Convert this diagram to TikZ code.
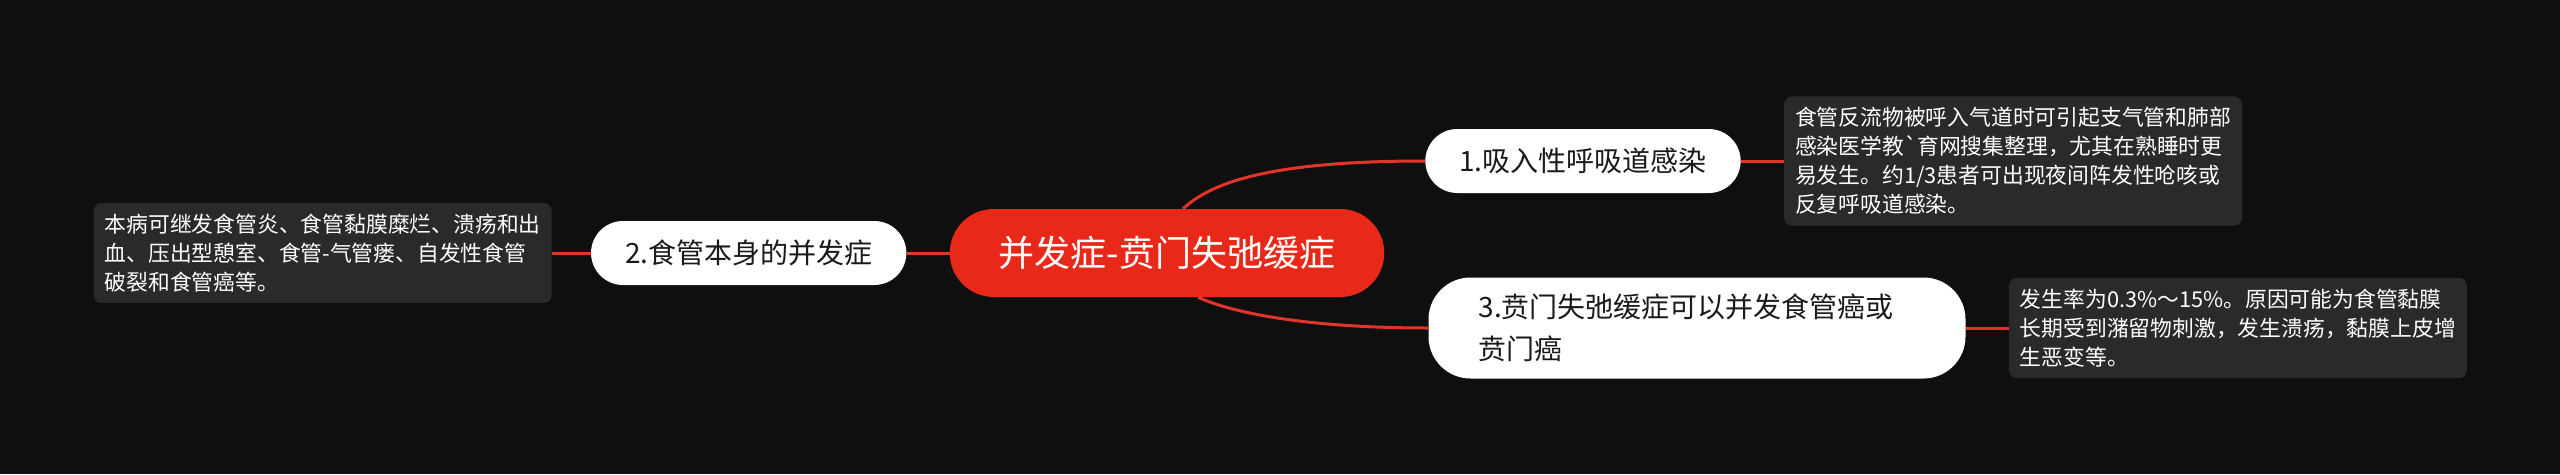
\documentclass[tikz,border=0pt]{standalone}
\usepackage{fontspec}
\newfontfamily\cjk{Noto Sans CJK SC}
\usetikzlibrary{positioning}
\definecolor{bgblack}{RGB}{15,15,15}
\definecolor{rootred}{RGB}{232,41,26}
\definecolor{linkred}{RGB}{226,52,40}
\definecolor{notegray}{RGB}{42,42,42}
\definecolor{textdark}{RGB}{26,26,26}
\tikzset{
    root/.style = {fill=rootred, text=white, rounded corners=44pt, minimum height=88pt, inner xsep=49pt, font=\cjk\fontsize{36}{40}\selectfont},
    topic/.style = {fill=white, text=textdark, rounded corners=32pt, minimum height=64pt, inner xsep=34pt, font=\cjk\fontsize{28}{42}\selectfont},
    note/.style = {fill=notegray, text=white, rounded corners=8pt, align=left, inner xsep=11pt, inner ysep=11pt, font=\cjk\fontsize{21.8}{29}\selectfont},
    link/.style = {draw=linkred, line width=3pt}
}

\begin{document}
\begin{tikzpicture}[x=1pt, y=-1pt]
    \def\leafsep{43pt}
    \useasboundingbox[fill=bgblack] (0,0) rectangle (2560,474);

    \node (root) [root] at (1167,253) {并发症-贲门失弛缓症};

    \node (topic2) [topic,left=\leafsep of root] {2.食管本身的并发症};
    \node (note2) [note,left=39pt of topic2] {本病可继发食管炎、食管黏膜糜烂、溃疡和出\\血、压出型憩室、食管-气管瘘、自发性食管\\破裂和食管癌等。};

    \node (topic1) [topic] at (1583,161) {1.吸入性呼吸道感染};
    \node (note1) [note,right=\leafsep of topic1] {食管反流物被呼入气道时可引起支气管和肺部\\感染医学教\textasciigrave 育网搜集整理，尤其在熟睡时更\\易发生。约1/3患者可出现夜间阵发性呛咳或\\反复呼吸道感染。};

    \node (topic3) [topic,align=left,text width=437pt,inner xsep=50pt,minimum height=101pt,rounded corners=42pt] at (1697,328) {3.贲门失弛缓症可以并发食管癌或\\贲门癌};
    \node (note3) [note,right=\leafsep of topic3] {发生率为0.3\%～15\%。原因可能为食管黏膜\\长期受到潴留物刺激，发生溃疡，黏膜上皮增\\生恶变等。};

    \draw[link] (root) -- (topic2);
    \draw[link] (topic2) -- (note2);
    \draw[link] ([xshift=16pt]root.north) .. controls +(30,-28) and +(-150,0) .. (topic1.west);
    \draw[link] ([xshift=31pt]root.south) .. controls +(30,14) and +(-128,0) .. (topic3.west);
    \draw[link] (topic1) -- (note1);
    \draw[link] (topic3) -- (note3);
\end{tikzpicture}
\end{document}
